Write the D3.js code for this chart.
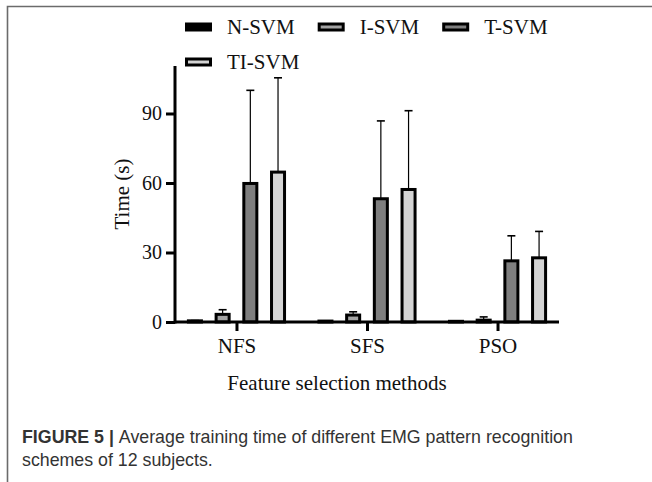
<!DOCTYPE html>
<html>
<head>
<meta charset="utf-8">
<script src="https://cdn.jsdelivr.net/npm/d3@7"></script>
<style>
  body { margin: 0; background: #fff; }
  svg { display: block; }
</style>
</head>
<body>
<div class="canvas"></div>
<script>
// data (mean and SD, seconds)
const categories = ['NFS', 'SFS', 'PSO'];
const series = ['N-SVM', 'I-SVM', 'T-SVM', 'TI-SVM'];
const nSvmMean = [0.5, 0.4, 0.3];
const iSvmMean = [3.3, 3.0, 0.8];
const tSvmMean = [59.8, 53.2, 26.4];
const tiSvmMean = [64.7, 57.2, 27.7];
const nSvmSd = [0.1, 0.1, 0.1];
const iSvmSd = [2.0, 1.4, 1.4];
const tSvmSd = [40.2, 33.6, 10.8];
const tiSvmSd = [40.7, 34.0, 11.4];
const yTicks = [0, 30, 60, 90];

const colors = ['#000000', '#a3a3a3', '#7f7f7f', '#d4d4d4'];
const means = [nSvmMean, iSvmMean, tSvmMean, tiSvmMean];
const sds = [nSvmSd, iSvmSd, tSvmSd, tiSvmSd];

// build flat table for drawing
const data = [];
categories.forEach((c, i) => {
    series.forEach((s, j) => {
        data.push({ cat: c, series: s, mean: means[j][i], sd: sds[j][i], color: colors[j] });
    });
});

const width = 652, height = 482;
const svg = d3.select('.canvas')
    .append('svg')
    .attr('width', width)
    .attr('height', height);

// frame lines (left + top)
svg.append('path')
    .attr('d', 'M7.5,482 V6.5 H652')
    .attr('fill', 'none')
    .attr('stroke', '#6b6b6b')
    .attr('stroke-width', 1.6);

const serif = '"Liberation Serif", "Times New Roman", serif';

const y = d3.scaleLinear()
    .domain([0, 110.5])
    .range([322, 66]);

const x0 = d3.scalePoint()
    .domain(categories)
    .range([175, 559])
    .padding(0.471);

const x1 = d3.scaleBand()
    .domain(series)
    .range([-55.4, 55.4])
    .paddingInner(0.53)
    .paddingOuter(0.265);

// bars
const groups = svg.selectAll('g.grp')
    .data(data)
    .enter()
    .append('g')
    .attr('class', 'grp');

// error bars (upper only)
groups.append('line')
    .attr('x1', d => x0(d.cat) + x1(d.series) + x1.bandwidth() / 2)
    .attr('x2', d => x0(d.cat) + x1(d.series) + x1.bandwidth() / 2)
    .attr('y1', d => y(d.mean))
    .attr('y2', d => y(d.mean + d.sd))
    .attr('stroke', '#000')
    .attr('stroke-width', 1.2);

groups.append('line')
    .attr('x1', d => x0(d.cat) + x1(d.series) + x1.bandwidth() / 2 - 4)
    .attr('x2', d => x0(d.cat) + x1(d.series) + x1.bandwidth() / 2 + 4)
    .attr('y1', d => y(d.mean + d.sd))
    .attr('y2', d => y(d.mean + d.sd))
    .attr('stroke', '#000')
    .attr('stroke-width', 1.6);

groups.append('rect')
    .attr('x', d => x0(d.cat) + x1(d.series))
    .attr('y', d => y(d.mean))
    .attr('width', x1.bandwidth())
    .attr('height', d => y(0) - y(d.mean))
    .attr('fill', d => d.color)
    .attr('stroke', '#000')
    .attr('stroke-width', 3);

// axes
const yAxis = d3.axisLeft(y)
    .tickValues(yTicks)
    .tickSize(9)
    .tickPadding(4);

const xAxis = d3.axisBottom(x0)
    .tickSize(9)
    .tickPadding(7);

const yAxisGroup = svg.append('g')
    .attr('transform', 'translate(175,0)')
    .call(yAxis);

const xAxisGroup = svg.append('g')
    .attr('transform', `translate(0,${y(0)})`)
    .call(xAxis);

[yAxisGroup, xAxisGroup].forEach(g => {
    g.select('.domain').remove();
    g.selectAll('.tick line').attr('stroke', '#000').attr('stroke-width', 3);
    g.selectAll('.tick text')
        .attr('fill', '#111')
        .style('font-family', serif)
        .style('font-size', '20px');
});
xAxisGroup.selectAll('.tick text').style('font-size', '21px');

// axis lines
svg.append('line')
    .attr('x1', 175).attr('x2', 175)
    .attr('y1', y.range()[1]).attr('y2', y(0) + 1.5)
    .attr('stroke', '#000').attr('stroke-width', 3);
svg.append('line')
    .attr('x1', 175).attr('x2', 559)
    .attr('y1', y(0)).attr('y2', y(0))
    .attr('stroke', '#000').attr('stroke-width', 3);

// axis titles
svg.append('text')
    .attr('transform', `translate(129,${(y.range()[0] + y.range()[1]) / 2}) rotate(-90)`)
    .attr('text-anchor', 'middle')
    .style('font-family', serif)
    .style('font-size', '21px')
    .attr('fill', '#111')
    .text('Time (s)');

svg.append('text')
    .attr('x', 337)
    .attr('y', 390)
    .attr('text-anchor', 'middle')
    .style('font-family', serif)
    .style('font-size', '21px')
    .attr('fill', '#111')
    .text('Feature selection methods');

// legend, flowing left to right and wrapping
const legend = svg.append('g');
let lx = 185, ly = 27;
series.forEach((s, j) => {
    const item = legend.append('g');
    item.append('rect')
        .attr('x', 1.5).attr('y', -3)
        .attr('width', 24).attr('height', 6)
        .attr('fill', colors[j])
        .attr('stroke', '#000')
        .attr('stroke-width', 3);
    const t = item.append('text')
        .attr('x', 42)
        .attr('y', 7)
        .style('font-family', serif)
        .style('font-size', '21px')
        .attr('fill', '#111')
        .text(s);
    const w = 42 + t.node().getComputedTextLength();
    if (lx + w > 560) { lx = 185; ly += 35; }
    item.attr('transform', `translate(${lx},${ly})`);
    lx += w + 23;
});

// caption
const sans = '"Liberation Sans", Arial, Helvetica, sans-serif';
const cap = svg.append('text')
    .attr('x', 22)
    .attr('y', 443)
    .style('font-family', sans)
    .style('font-size', '17.8px')
    .attr('fill', '#333');
cap.append('tspan').style('font-weight', 'bold').text('FIGURE 5 | ');
cap.append('tspan').text('Average training time of different EMG pattern recognition');

svg.append('text')
    .attr('x', 22)
    .attr('y', 466)
    .style('font-family', sans)
    .style('font-size', '17.8px')
    .attr('fill', '#333')
    .text('schemes of 12 subjects.');
</script>
</body>
</html>
